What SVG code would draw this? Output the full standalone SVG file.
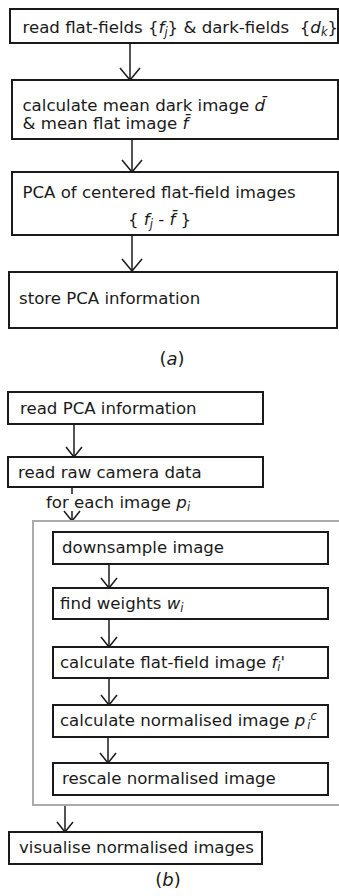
<svg xmlns="http://www.w3.org/2000/svg" width="339" height="896" viewBox="0 0 339 896">
<defs>
<style>
.box{fill:#fff;stroke:#1a1a1a;stroke-width:2}
.cont{fill:none;stroke:#aaaaaa;stroke-width:2}
.t{font-family:"DejaVu Sans","Liberation Sans",sans-serif;font-size:16.6px;fill:#1a1a1a;white-space:pre}
.cap{font-size:18px}
.i{font-style:italic}
.s{font-size:11.5px}
.ln{stroke:#1a1a1a;stroke-width:1.5;fill:none}
</style>
<marker id="ah" markerUnits="userSpaceOnUse" markerWidth="30" markerHeight="30" viewBox="-15 -15 30 30" refX="0" refY="0" orient="auto" overflow="visible">
<path d="M-12,-10 L0,0 L-12,10" fill="none" stroke="#1a1a1a" stroke-width="1.5"/>
</marker>
<marker id="ahs" markerUnits="userSpaceOnUse" markerWidth="30" markerHeight="30" viewBox="-15 -15 30 30" refX="0" refY="0" orient="auto" overflow="visible">
<path d="M-10,-8 L0,0 L-10,8" fill="none" stroke="#1a1a1a" stroke-width="1.5"/>
</marker>
</defs>
<rect width="339" height="896" fill="#fff"/>
<g id="connectors">
<line class="ln" x1="130" y1="43" x2="130" y2="80" marker-end="url(#ah)"/>
<line class="ln" x1="132" y1="139" x2="132" y2="172" marker-end="url(#ah)"/>
<line class="ln" x1="132" y1="235" x2="132" y2="271" marker-end="url(#ah)"/>
<line class="ln" x1="74" y1="424" x2="74" y2="457" marker-end="url(#ahs)"/>
<line class="ln" x1="72" y1="487" x2="72" y2="494"/>
<line class="ln" x1="72" y1="511" x2="72" y2="521" marker-end="url(#ahs)"/>
<line class="ln" x1="109" y1="564" x2="109" y2="588" marker-end="url(#ahs)"/>
<line class="ln" x1="109" y1="619" x2="109" y2="647" marker-end="url(#ahs)"/>
<line class="ln" x1="109" y1="678" x2="109" y2="705" marker-end="url(#ahs)"/>
<line class="ln" x1="108" y1="737" x2="108" y2="763" marker-end="url(#ahs)"/>
<line class="ln" x1="65" y1="805" x2="65" y2="832" marker-end="url(#ahs)"/>
</g>
<g id="n1"><rect class="box" x="10" y="9" width="328" height="34"/>
<text class="t" x="22.5" y="33">read flat-fields {<tspan class="i">f</tspan><tspan class="i s" dy="3">j</tspan><tspan dy="-3">} &amp; dark-fields  {</tspan><tspan class="i">d</tspan><tspan class="i s" dy="3">k</tspan><tspan dy="-3">}</tspan></text></g>
<g id="n2"><rect class="box" x="12" y="80" width="326" height="59"/>
<text class="t" x="22.5" y="111">calculate mean dark image <tspan class="i">d̄</tspan></text>
<text class="t" x="22.5" y="129">&amp; mean flat image <tspan class="i">f̄</tspan></text></g>
<g id="n3"><rect class="box" x="12" y="172" width="326" height="63"/>
<text class="t" x="22.5" y="198">PCA of centered flat-field images</text>
<text class="t" x="128" y="225">{ <tspan class="i">f</tspan><tspan class="i s" dy="3">j</tspan><tspan dy="-3"> - </tspan><tspan class="i">f̄</tspan> }</text></g>
<g id="n4"><rect class="box" x="9" y="272" width="328" height="56"/>
<text class="t" x="19" y="304">store PCA information</text></g>
<text class="t cap" x="172" y="365" text-anchor="middle">(<tspan class="i">a</tspan>)</text>
<g id="n5"><rect class="box" x="8" y="392" width="255" height="32"/>
<text class="t" x="20" y="414">read PCA information</text></g>
<g id="n6"><rect class="box" x="8" y="457" width="255" height="30"/>
<text class="t" x="18" y="478">read raw camera data</text></g>
<text class="t" x="46" y="508">for each image <tspan class="i">p</tspan><tspan class="i s" dy="3">i</tspan></text>
<g id="loop"><rect class="cont" x="33" y="521" width="320" height="284"/></g>
<g id="n7"><rect class="box" x="53" y="532" width="275" height="32"/>
<text class="t" x="62" y="553">downsample image</text></g>
<g id="n8"><rect class="box" x="53" y="588" width="275" height="31"/>
<text class="t" x="60" y="609">find weights <tspan class="i">w</tspan><tspan class="i s" dy="3">i</tspan></text></g>
<g id="n9"><rect class="box" x="53" y="647" width="275" height="31"/>
<text class="t" x="60" y="668">calculate flat-field image <tspan class="i">f</tspan><tspan class="i s" dy="3">i</tspan><tspan dy="-3">'</tspan></text></g>
<g id="n10"><rect class="box" x="53" y="705" width="275" height="32"/>
<text class="t" x="60" y="726">calculate normalised image <tspan class="i">p</tspan><tspan class="i s" dx="2" dy="3">i</tspan><tspan class="i s" dx="0" dy="-9">c</tspan></text></g>
<g id="n11"><rect class="box" x="53" y="763" width="275" height="32"/>
<text class="t" x="62" y="784">rescale normalised image</text></g>
<g id="n12"><rect class="box" x="9" y="832" width="253" height="32"/>
<text class="t" x="19" y="853">visualise normalised images</text></g>
<text class="t cap" x="168" y="886" text-anchor="middle">(<tspan class="i">b</tspan>)</text>
</svg>
